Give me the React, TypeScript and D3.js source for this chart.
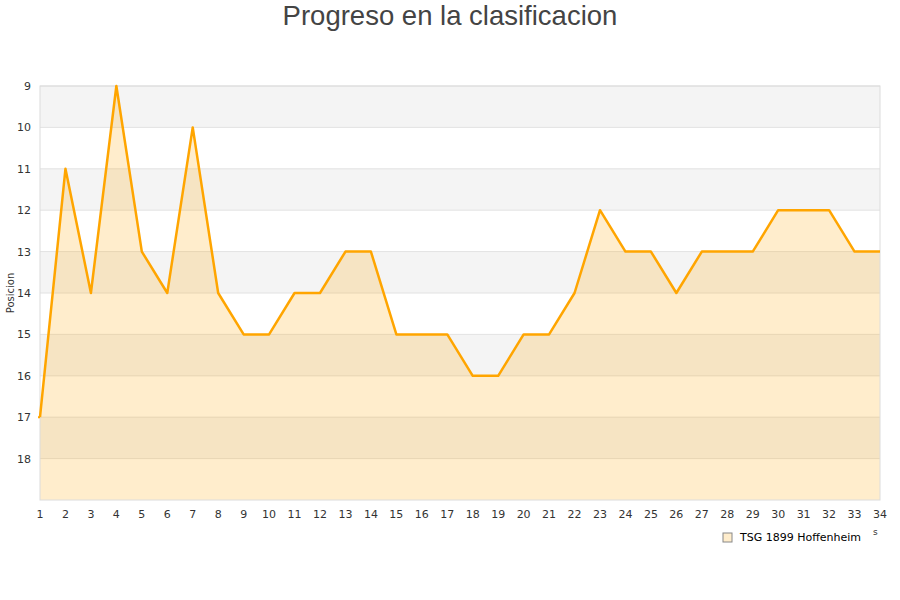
import React from "react";
import * as d3 from "d3";

const jornadas: number[] = Array.from({ length: 34 }, (_, i) => i + 1);
const posiciones: number[] = [17, 11, 14, 9, 13, 14, 10, 14, 15, 15, 14, 14, 13, 13, 15, 15, 15, 16, 16, 15, 15, 14, 12, 13, 13, 14, 13, 13, 13, 12, 12, 12, 13, 13];
const yTicks: number[] = [9, 10, 11, 12, 13, 14, 15, 16, 17, 18];
const teamName = "TSG 1899 Hoffenheim";
const title = "Progreso en la clasificacion";
const yTitle = "Posicion";

const W = 900, H = 600;
const L = 40, R = 880, T = 86, B = 500;

export default function App() {
  const x = d3.scaleLinear().domain([1, 34]).range([L, R]);
  const y = d3.scaleLinear().domain([9, 19]).range([T, B]);
  const pts: [number, number][] = jornadas.map((j, i) => [j, posiciones[i]]);
  const line = d3.line<[number, number]>().x(d => x(d[0])).y(d => y(d[1]));
  const area = d3.area<[number, number]>().x(d => x(d[0])).y0(y(19)).y1(d => y(d[1]));
  const font = "'DejaVu Sans', Verdana, sans-serif";
  const bands = d3.range(9, 19);
  return (
    <svg width={W} height={H} style={{ position: "absolute", left: 0, top: 0 }} fontFamily={font}>
      <rect x={0} y={0} width={W} height={H} fill="#fff" />
      <text x={450} y={25} textAnchor="middle" fontFamily="'Liberation Sans', Arial, sans-serif" fontSize={27.5} fill="#444">{title}</text>
      {bands.map(b => (
        <rect key={b} x={L} y={y(b)} width={R - L} height={y(b + 1) - y(b)} fill={(b - 9) % 2 === 0 ? "#f4f4f4" : "#ffffff"} />
      ))}
      {yTicks.map(t => (
        <line key={t} x1={L} x2={R} y1={y(t)} y2={y(t)} stroke="#e2e2e2" strokeWidth={1} />
      ))}
      <path d={area(pts) || ""} fill="#ffa500" fillOpacity={0.2} />
      <rect x={L} y={T} width={R - L} height={B - T} fill="none" stroke="#dcdcdc" strokeWidth={1} />
      <path d={line(pts) || ""} fill="none" stroke="#ffa500" strokeWidth={2.5} strokeLinejoin="round" />
      <line x1={x(1) - 2} x2={x(1)} y1={y(17)} y2={y(17)} stroke="#ffa500" strokeWidth={2} />
      {yTicks.map(t => (
        <text key={t} x={31} y={y(t) + 4} textAnchor="end" fontSize={11} fill="#333">{t}</text>
      ))}
      {jornadas.map(j => (
        <text key={j} x={x(j)} y={518} textAnchor="middle" fontSize={11} fill="#333">{j}</text>
      ))}
      <text transform={`translate(14,${(T + B) / 2 + 0}) rotate(-90)`} textAnchor="middle" fontSize={10} fill="#333">{yTitle}</text>
      <text x={873} y={535} fontSize={9} fill="#333">s</text>
      <rect x={723} y={533} width={9} height={9} fill="#ffedcc" stroke="#888" strokeWidth={1} />
      <text x={740} y={541} fontSize={11} fill="#000">{teamName}</text>
    </svg>
  );
}
